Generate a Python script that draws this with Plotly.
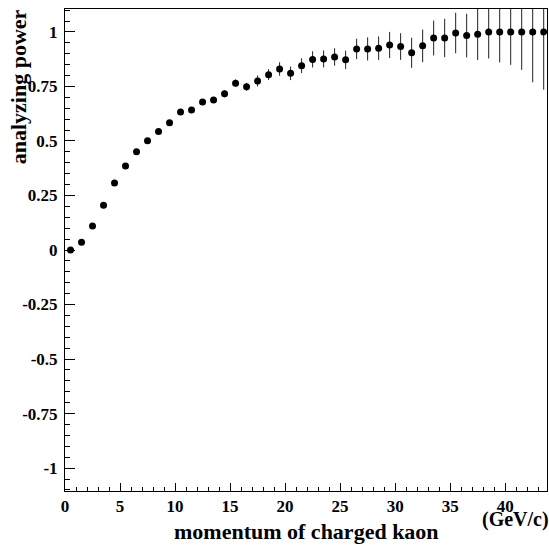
import plotly.graph_objects as go

momentum = [0.5, 1.5, 2.5, 3.5, 4.5, 5.5, 6.5, 7.5, 8.5, 9.5, 10.5, 11.5, 12.5, 13.5,
            14.5, 15.5, 16.5, 17.5, 18.5, 19.5, 20.5, 21.5, 22.5, 23.5, 24.5, 25.5,
            26.5, 27.5, 28.5, 29.5, 30.5, 31.5, 32.5, 33.5, 34.5, 35.5, 36.5, 37.5,
            38.5, 39.5, 40.5, 41.5, 42.5, 43.5]
analyzing_power = [0.0, 0.035, 0.11, 0.205, 0.307, 0.385, 0.451, 0.501, 0.543, 0.584,
                   0.633, 0.642, 0.679, 0.688, 0.716, 0.765, 0.748, 0.775, 0.804, 0.830,
                   0.810, 0.845, 0.874, 0.876, 0.885, 0.872, 0.922, 0.922, 0.925, 0.940,
                   0.933, 0.904, 0.936, 0.972, 0.972, 0.995, 0.983, 0.989, 1.0, 1.0,
                   1.0, 1.0, 1.0, 1.0]
errors = [0.003, 0.003, 0.004, 0.004, 0.005, 0.005, 0.006, 0.006, 0.007, 0.008,
          0.009, 0.010, 0.011, 0.012, 0.016, 0.017, 0.018, 0.025, 0.025, 0.031,
          0.031, 0.034, 0.037, 0.039, 0.040, 0.042, 0.047, 0.053, 0.054, 0.060,
          0.061, 0.069, 0.075, 0.080, 0.088, 0.093, 0.100, 0.118, 0.122, 0.140,
          0.151, 0.174, 0.231, 0.265]

x_ticks = [0, 5, 10, 15, 20, 25, 30, 35, 40]
y_ticks = [-1, -0.75, -0.5, -0.25, 0, 0.25, 0.5, 0.75, 1]
y_ticktext = ["-1", "-0.75", "-0.5", "-0.25", "0", "0.25", "0.5", "0.75", "1"]

FONT = "Liberation Serif"
tick_font = dict(family=FONT, size=17, color="black", weight="bold")

fig = go.Figure()
fig.add_trace(go.Scatter(
    x=momentum, y=analyzing_power, mode="markers",
    marker=dict(color="black", size=7),
    error_y=dict(type="data", array=errors, color="#222222", thickness=1, width=0),
    showlegend=False,
))

fig.update_layout(
    width=549, height=546,
    margin=dict(l=65, r=2, t=9, b=55),
    plot_bgcolor="white", paper_bgcolor="white",
    font=dict(family=FONT, size=16, color="black", weight="bold"),
    xaxis=dict(
        range=[0, 43.8], showgrid=False, zeroline=False,
        showline=True, linecolor="black", linewidth=1, mirror=True,
        ticks="inside", ticklen=8, tickcolor="black", tickwidth=1,
        tickmode="array", tickvals=x_ticks, ticktext=[str(v) for v in x_ticks],
        tickfont=tick_font,
        minor=dict(dtick=1, tick0=0, ticklen=4, ticks="inside", tickcolor="black", showgrid=False),
    ),
    yaxis=dict(
        range=[-1.105, 1.105], showgrid=False, zeroline=False,
        showline=True, linecolor="black", linewidth=1, mirror=True,
        ticks="inside", ticklen=10, tickcolor="black", tickwidth=1,
        tickmode="array", tickvals=y_ticks, ticktext=y_ticktext,
        tickfont=tick_font,
        minor=dict(dtick=0.05, tick0=0, ticklen=5, ticks="inside", tickcolor="black", showgrid=False),
        ticklabelstandoff=3,
    ),
    annotations=[
        dict(text="momentum of charged kaon", xref="paper", yref="paper",
             x=0.5, y=-0.054, xanchor="center", yanchor="top", showarrow=False,
             font=dict(family=FONT, size=22, color="black", weight="bold")),
        dict(text="(GeV/c)", xref="paper", yref="paper",
             x=1.008, y=-0.031, xanchor="right", yanchor="top", showarrow=False,
             font=dict(family=FONT, size=20, color="black", weight="bold")),
        dict(text="analyzing power", xref="paper", yref="paper",
             x=-0.096, y=1.004, xanchor="center", yanchor="top", textangle=-90,
             showarrow=False,
             font=dict(family=FONT, size=22, color="black", weight="bold")),
    ],
)

fig.write_html("out.html")
